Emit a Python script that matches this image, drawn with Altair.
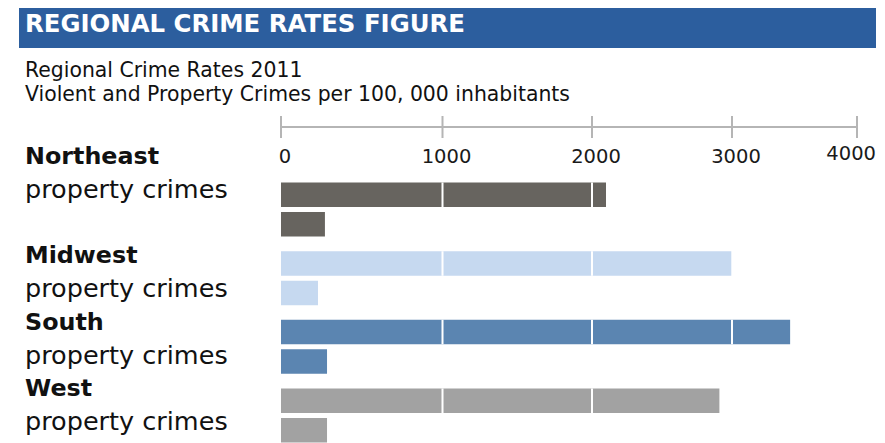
import altair as alt
import pandas as pd

# ---- data ----
regions = ["Northeast", "Midwest", "South", "West"]
property_rates = [2100, 2995, 3465, 2910]
violent_rates = [272, 229, 285, 285]
crime_types = ["property crimes", "violent crimes"]
region_colors = ["#67645f", "#c6d9f0", "#5b85b1", "#a2a2a2"]
tick_values = [0, 1000, 2000, 3000, 4000]
tick_labels = ["0", "1000", "2000", "3000", "4000"]
sub_label = "property crimes"
title_text = "REGIONAL CRIME RATES FIGURE"
subtitle_1 = "Regional Crime Rates 2011"
subtitle_2 = "Violent and Property Crimes per 100, 000 inhabitants"

FONT = "DejaVu Sans"

# ---- tables built from the lists ----
rows = []
for r, p, v in zip(regions, property_rates, violent_rates):
    rows.append({"region": r, "type": crime_types[0], "rate": p})
    rows.append({"region": r, "type": crime_types[1], "rate": v})
bars_df = pd.DataFrame(rows)

grid_df = pd.DataFrame(
    [
        {"region": row["region"], "type": row["type"], "tick": t}
        for row in rows
        for t in tick_values[1:-1]
        if t < row["rate"]
    ]
)

ticks_df = pd.DataFrame({"tick": tick_values, "label": tick_labels})
axis_df = pd.DataFrame({"lo": [tick_values[0]], "hi": [tick_values[-1]]})

label_slots = []
for r in regions:
    label_slots.append(r + "|name")
    label_slots.append(r + "|sub")
    if r == regions[0]:
        label_slots.append("gap")
names_df = pd.DataFrame({"slot": [r + "|name" for r in regions], "text": regions})
subs_df = pd.DataFrame({"slot": [r + "|sub" for r in regions], "text": [sub_label] * len(regions)})

# ---- scales ----
def xscale():
    return alt.Scale(domain=tick_values, range=[0, 161.5, 311, 451, 576], nice=False, zero=False)


def ybar():
    return alt.Y(
        "region:N",
        scale=alt.Scale(domain=regions, range=[167.2, 441.8], paddingInner=0, paddingOuter=0),
        axis=None,
    )


def yoff():
    return alt.YOffset(
        "type:N", scale=alt.Scale(domain=crime_types, paddingInner=0.17, paddingOuter=0.25)
    )


def ylabel():
    return alt.Y(
        "slot:N",
        scale=alt.Scale(domain=label_slots, range=[132.45, 430.35], paddingInner=0, paddingOuter=0),
        axis=None,
    )


# ---- layers ----
banner = alt.Chart(pd.DataFrame({"t": [title_text]})).mark_rect(color="#2c5e9e").encode(
    x=alt.value(-262), x2=alt.value(595), y=alt.value(0), y2=alt.value(40)
)
title = alt.Chart(pd.DataFrame({"t": [title_text]})).mark_text(
    align="left", baseline="middle", font=FONT, fontSize=24.4, fontWeight="bold", color="white"
).encode(x=alt.value(-256), y=alt.value(16.5), text="t:N")

sub1 = alt.Chart(pd.DataFrame({"t": [subtitle_1]})).mark_text(
    align="left", baseline="middle", font=FONT, fontSize=20.4, color="#111111"
).encode(x=alt.value(-256), y=alt.value(63), text="t:N")
sub2 = alt.Chart(pd.DataFrame({"t": [subtitle_2]})).mark_text(
    align="left", baseline="middle", font=FONT, fontSize=20.4, color="#111111"
).encode(x=alt.value(-256), y=alt.value(87), text="t:N")

axis_line = alt.Chart(axis_df).mark_rule(color="#b5b5b5", strokeWidth=2).encode(
    x=alt.X("lo:Q", scale=xscale(), axis=None), x2="hi:Q", y=alt.value(119)
)
axis_ticks = alt.Chart(ticks_df).mark_rule(color="#b5b5b5", strokeWidth=2).encode(
    x=alt.X("tick:Q", scale=xscale(), axis=None), y=alt.value(108), y2=alt.value(130)
)
axis_labels = alt.Chart(ticks_df.iloc[:-1]).mark_text(
    align="center", baseline="middle", font=FONT, fontSize=19.5, color="#1a1a1a", dx=4
).encode(x=alt.X("tick:Q", scale=xscale(), axis=None), y=alt.value(149), text="label:N")
axis_label_last = alt.Chart(ticks_df.iloc[-1:]).mark_text(
    align="right", baseline="middle", font=FONT, fontSize=19.5, color="#1a1a1a", dx=19
).encode(x=alt.X("tick:Q", scale=xscale(), axis=None), y=alt.value(146), text="label:N")

bars = alt.Chart(bars_df).mark_bar().encode(
    x=alt.X("rate:Q", scale=xscale(), axis=None),
    y=ybar(),
    yOffset=yoff(),
    color=alt.Color("region:N", scale=alt.Scale(domain=regions, range=region_colors), legend=None),
)

grid = alt.Chart(grid_df).mark_bar(color="white", stroke="white", strokeWidth=2).encode(
    x=alt.X("tick:Q", scale=xscale(), axis=None),
    x2="tick:Q",
    y=ybar(),
    yOffset=yoff(),
)

names = alt.Chart(names_df).mark_text(
    align="left", baseline="middle", font=FONT, fontSize=23.8, fontWeight="bold", color="#111111"
).encode(x=alt.value(-256), y=ylabel(), text="text:N")
subs = alt.Chart(subs_df).mark_text(
    align="left", baseline="middle", font=FONT, fontSize=25.5, color="#111111"
).encode(x=alt.value(-256), y=ylabel(), text="text:N")

chart = (
    alt.layer(
        banner, title, sub1, sub2, axis_line, axis_ticks, axis_labels, axis_label_last,
        bars, grid, names, subs,
    )
    .resolve_scale(y="independent")
    .properties(
        width=577,
        height=435,
        autosize=alt.AutoSizeParams(type="none"),
        padding={"left": 273, "top": 0, "right": 19, "bottom": 0},
        background="white",
    )
    .configure_view(stroke=None)
)

chart.save("out.html", embed_options={"renderer": "svg", "actions": False})
